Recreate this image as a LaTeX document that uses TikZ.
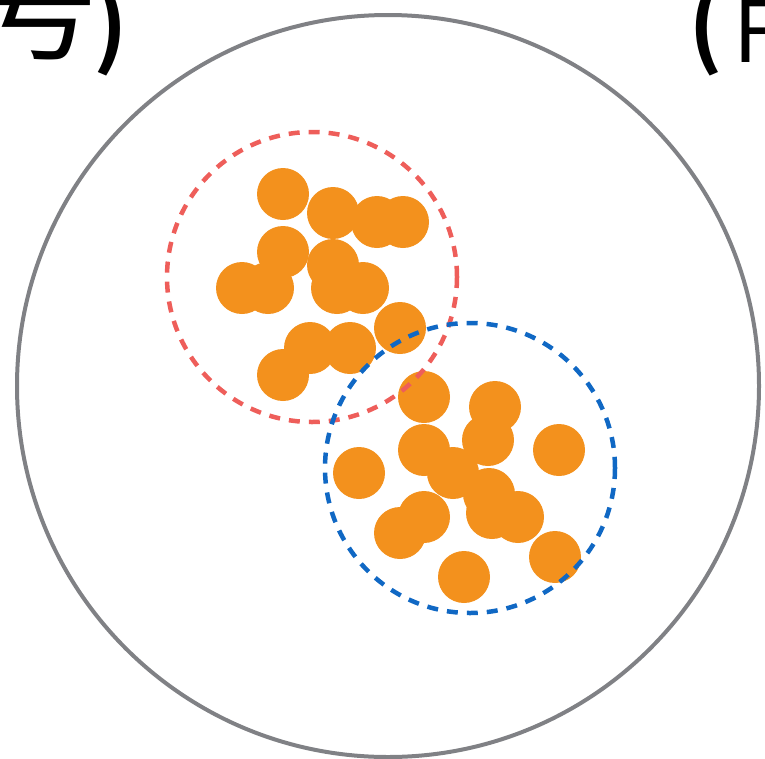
\documentclass[tikz,border=0pt]{standalone}
\usepackage{fontspec}
\newfontfamily\cjk{Noto Sans CJK SC}[BoldFont={Noto Sans CJK SC Bold}]
\definecolor{ringgray}{RGB}{128,129,133}
\definecolor{redring}{RGB}{238,94,90}
\definecolor{bluering}{RGB}{16,104,196}
\definecolor{dotorange}{RGB}{243,145,29}
\tikzset{
  dotnode/.style={circle,fill=dotorange,inner sep=0pt,minimum size=52pt},
  redcirc/.style={draw=redring,line width=4.5pt,dash pattern=on 11pt off 9pt},
  bluecirc/.style={draw=bluering,line width=4.5pt,dash pattern=on 11pt off 9pt},
  lbl/.style={inner sep=0pt}
}
\begin{document}
\begin{tikzpicture}[x=1pt,y=-1pt]
\useasboundingbox (0,0) rectangle (765,758);
\clip (0,0) rectangle (765,758);
\node[lbl,anchor=base east,font=\cjk\fontsize{121}{130}\selectfont] (tlchar) at (99,50) {号};
\node[lbl,anchor=base east,font=\cjk\bfseries\fontsize{92}{100}\selectfont] (tlpar) at (128,57) {)};
\node[lbl,anchor=base west,font=\cjk\bfseries\fontsize{92}{100}\selectfont] (trpar) at (688,57) {(};
\node[lbl,anchor=base west,font=\cjk\fontsize{85}{95}\selectfont] (trF) at (733,62) {F};
\draw[ringgray,line width=4pt] (388,386) circle[radius=371];
\foreach \n/\x/\y in {A/283/194,B/333/213,C/377/222,D/403/222,E/283/252,F/333/265,G/242/288,H/268/288,I/337/288,J/363/288,K/400/328,L/310/348,M/350/348,N/283/375,P/424/397,S/495/407,T/488/440,Q/424/450,V/559/450,R/359/473,U/453/473,W/489/494,Wb/492/513,Wc/518/517,X/424/517,Y/400/533,Z/464/577,AA/555/557}
  \node[dotnode] (d\n) at (\x,\y) {};
\draw[redcirc] (312,277) circle[radius=145];
\draw[bluecirc] (470,468) circle[radius=145];
\end{tikzpicture}
\end{document}
